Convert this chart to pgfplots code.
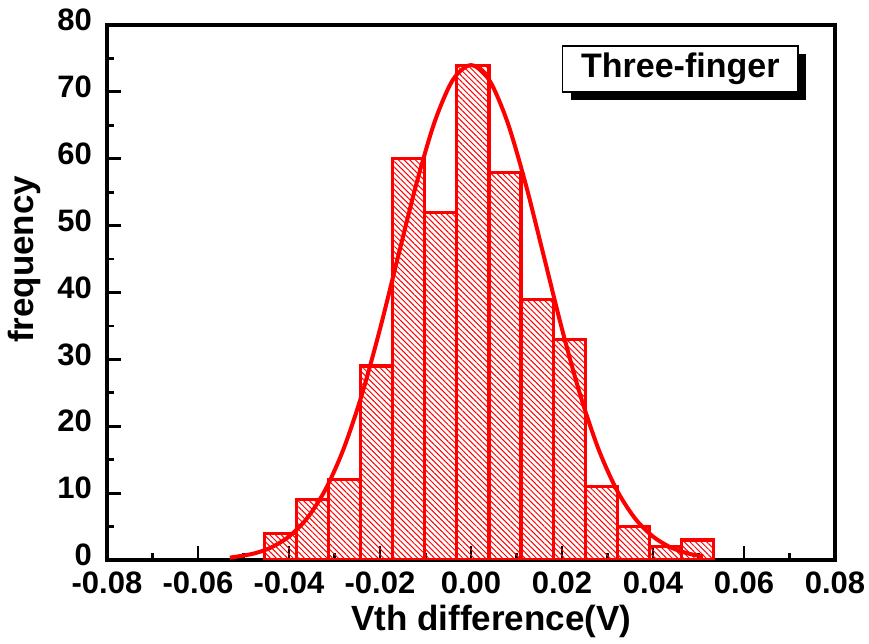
\documentclass[border=0pt]{standalone}
\usepackage{fontspec}
\setmainfont{Liberation Sans}
\usepackage{pgfplots}
\pgfplotsset{compat=1.18}
\usetikzlibrary{patterns.meta,shadows}

\begin{document}
\begin{tikzpicture}
\begin{axis}[
    scale only axis,
    width=364pt, height=267.5pt,
    xmin=-0.08, xmax=0.08, ymin=0, ymax=80,
    xtick={-0.08,-0.06,-0.04,-0.02,0,0.02,0.04,0.06,0.08},
    ytick={0,10,20,30,40,50,60,70,80},
    minor x tick num=1, minor y tick num=1,
    scaled x ticks=false,
    xtick pos=bottom, ytick pos=left,
    tick align=inside,
    major tick length=7pt, minor tick length=3.5pt,
    every tick/.style={black, line width=1.4pt},
    axis line style={line width=1.6pt},
    /pgf/number format/assume math mode=true,
    xticklabel style={font=\bfseries\fontsize{15.5}{15.5}\selectfont, yshift=-2.5pt,
        /pgf/number format/.cd, fixed, fixed zerofill, precision=2},
    yticklabel style={font=\bfseries\fontsize{15.5}{15.5}\selectfont, xshift=-4pt, yshift=2.5pt},
    label style={font=\bfseries\fontsize{17.5}{17.5}\selectfont},
    xlabel={Vth difference(V)},
    ylabel={frequency},
    xlabel style={at={(axis description cs:0.528,-0.115)}, anchor=center},
    ylabel style={at={(axis description cs:-0.113,0.562)}, anchor=center},
]
% histogram, bin edges and counts
\addplot[ybar interval, draw=red, line width=1.6pt,
    pattern={Lines[angle=-45,distance=2pt,line width=0.5pt]}, pattern color=red]
coordinates {
    (-0.0454,4) (-0.03835,9) (-0.0313,12) (-0.02425,29) (-0.0172,60)
    (-0.01015,52) (-0.0031,74) (0.00395,58) (0.0110,39) (0.01805,33)
    (0.0251,11) (0.03215,5) (0.0392,2) (0.04625,3) (0.0533,3)
};
% fitted normal curve
\addplot[red, line width=2pt, smooth] coordinates {
    (-0.053,0.35) (-0.048,0.92) (-0.044,1.85) (-0.040,3.51) (-0.036,6.26)
    (-0.032,10.52) (-0.028,16.61) (-0.024,24.70) (-0.020,34.54) (-0.016,45.44)
    (-0.012,56.25) (-0.008,65.50) (-0.004,71.78) (0,74) (0.004,71.78)
    (0.008,65.50) (0.012,56.25) (0.016,45.44) (0.020,34.54) (0.024,24.70)
    (0.028,16.61) (0.032,10.52) (0.036,6.26) (0.040,3.51) (0.044,1.85)
    (0.048,0.92) (0.051,0.55)
};
\node[draw=black, line width=0.7pt, fill=white, minimum width=117.5pt,
    minimum height=23pt, inner sep=0pt,
    font=\bfseries\fontsize{17}{17}\selectfont,
    drop shadow={shadow xshift=4pt, shadow yshift=-4pt, fill=black, opacity=1}]
    at (axis cs:0.0460,73.4) {Three-finger};
\coordinate (sw) at (rel axis cs:0,0);
\coordinate (ne) at (rel axis cs:1,1);
\end{axis}
\pgfresetboundingbox
\path[use as bounding box] ([shift={(-53.5pt,-42pt)}]sw) rectangle ([shift={(17pt,12.5pt)}]ne);
\end{tikzpicture}
\end{document}
